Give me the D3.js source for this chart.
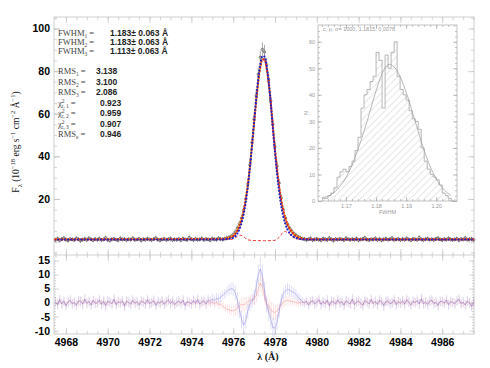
<!DOCTYPE html>
<html>
<head>
<meta charset="utf-8">
<script src="https://cdn.jsdelivr.net/npm/d3@7"></script>
<style>
body { margin: 0; background: #fff; }
svg { display: block; }
</style>
</head>
<body>
<div id="chart"></div>
<script>
// spectrum sampled every 0.1 A from 4967.5
const waveStart = 4967.5;
const waveStep = 0.1;

const obsFlux = [
  0.8,1.4,0.6,1.1,1.7,0.9,0.5,1.2,1.0,0.7,1.5,1.1,0.4,0.9,1.3,0.8,1.6,1.0,0.6,1.2,
  0.9,1.4,0.7,1.0,1.8,0.8,0.5,1.1,1.3,0.9,0.6,1.5,1.0,1.2,0.7,1.1,0.9,1.6,0.8,1.0,
  1.3,0.5,1.1,0.9,1.4,1.0,0.7,1.2,1.7,0.9,0.6,1.0,1.3,0.8,1.1,1.5,0.7,1.0,0.9,1.2,
  0.6,1.4,1.0,0.8,1.9,1.1,0.7,1.3,0.9,1.0,1.5,0.8,1.2,1.0,0.6,1.4,1.1,0.9,1.6,1.2,
  1.0,1.4,1.7,2.0,2.4,
  3.2,4.5,6.3,8.4,11.0,14.8,20.0,27.0,36.0,46.5,57.5,68.5,78.5,86.5,90.2,89.0,83.0,
  76.0,66.0,55.0,44.5,35.5,27.5,20.5,15.0,11.0,8.2,6.3,5.0,3.8,3.0,2.3,1.8,1.4,
  1.2,0.8,1.1,1.5,0.7,1.0,1.3,0.9,0.6,1.4,1.1,0.8,1.7,1.0,0.5,1.2,0.9,1.3,1.0,0.7,
  1.6,1.1,0.8,1.2,0.9,1.4,0.6,1.0,1.3,1.8,0.9,0.7,1.1,1.0,1.5,0.8,1.2,0.6,1.0,1.4,
  0.9,1.1,1.7,0.8,1.0,1.3,0.7,1.2,0.9,1.5,1.0,0.6,1.3,1.1,0.8,1.9,1.0,0.7,1.2,1.4,
  0.9,1.1,0.8,1.3,1.6,1.0,0.7,1.2,0.9,1.5,1.1,0.8,1.0,1.4,0.6,1.2,1.0,1.7,0.9,1.1,
  1.3,0.8
];

// line window (index 80 .. 123), continuum elsewhere
const windowStart = 80;
const obsErrBase = 1.0;
const obsErrLine = [
  1.0,1.0,1.1,1.1,1.2,
  1.2,1.3,1.4,1.5,1.6,1.8,2.0,2.2,2.4,2.6,2.8,3.0,3.1,3.2,3.3,3.3,3.2,3.0,2.8,2.6,
  2.4,2.2,2.0,1.8,1.6,1.5,1.4,1.3,1.3,1.2,1.2,1.1,1.1,1.0,
  1.0,1.0,1.0,1.0,1.0
];

const fitRed = [
  1.2,1.35,1.55,1.8,2.15,
  2.6,3.6,5.2,7.4,10.5,14.5,19.8,26.5,35.0,45.0,55.5,66.0,75.0,82.0,85.5,85.5,81.5,
  74.5,65.0,54.0,43.5,34.0,26.0,19.5,14.5,10.8,8.0,6.0,4.6,3.5,2.7,2.1,1.7,1.4,
  1.25,1.15,1.1,1.05,1.0
];
const fitOrange = [
  1.3,1.45,1.65,1.9,2.3,
  2.8,3.8,5.4,7.6,10.7,14.7,20.0,26.8,35.3,45.2,55.6,66.0,75.0,82.2,85.8,85.6,81.4,
  74.3,64.8,53.8,43.3,33.8,25.8,19.4,14.5,10.9,8.2,6.2,4.8,3.7,2.9,2.2,1.8,1.5,
  1.3,1.2,1.1,1.05,1.0
];
const fitBlue = [
  1.0,1.05,1.15,1.3,1.5,
  1.8,2.5,3.8,5.8,8.8,12.9,18.5,25.6,34.6,45.0,56.0,67.0,76.5,83.5,87.0,86.8,82.5,
  75.0,64.8,53.2,42.0,32.0,23.5,16.8,11.8,8.2,5.7,4.0,2.9,2.2,1.7,1.4,1.2,1.1,
  1.05,1.0,1.0,0.95,0.95
];
const fitContinuum = { red: 1.0, orange: 1.05, blue: 0.95 };

// broad component (red dashed)
const brdWave = [4967.5, 4975.9, 4976.1, 4976.3, 4976.5, 4976.7, 4977.0, 4977.5, 4978.0, 4978.2, 4978.45, 4978.7, 4978.9, 4979.2, 4987.5];
const brdFlux = [1.0, 1.0, 1.8, 3.0, 2.4, 0.8, 0.5, 0.4, 0.6, 2.0, 4.8, 3.5, 1.8, 1.1, 1.0];

// residuals
const residBlue = [
  0.3,-0.8,1.1,-0.4,0.6,-1.2,0.2,0.9,-0.5,0.1,-1.0,0.7,0.4,-0.6,1.3,-0.2,0.5,-0.9,0.8,-0.3,
  0.0,1.0,-0.7,0.4,-1.1,0.6,0.2,-0.4,1.2,-0.8,0.3,-0.1,0.7,-1.3,0.5,0.1,-0.6,0.9,-0.2,0.4,
  -0.9,0.6,0.2,-0.5,1.1,-0.3,0.0,0.8,-1.0,0.4,-0.2,0.7,-0.7,0.3,1.0,-0.4,0.5,-0.8,0.2,0.6,
  -0.3,0.9,-1.1,0.4,0.1,-0.5,0.8,-0.2,1.2,-0.6,0.3,0.7,-0.4,1.0,0.5,1.3,0.8,1.6,1.2,2.0,
  2.6,3.2,4.0,4.6,5.0,
  4.8,3.5,1.0,-2.5,-6.0,-8.0,-6.5,-3.0,-0.5,0.5,2.0,5.5,10.0,12.0,9.5,4.0,-0.5,-3.5,
  -6.0,-9.0,-9.0,-7.0,-3.0,1.0,3.2,4.2,4.8,4.5,4.0,3.6,3.0,2.0,1.2,0.5,
  -0.2,0.6,-0.9,0.3,0.8,-0.5,0.1,1.1,-0.7,0.4,-0.3,0.9,-1.2,0.5,0.2,-0.6,1.0,-0.1,0.4,-0.9,
  0.7,0.0,-0.4,1.3,-0.8,0.3,0.6,-0.2,-1.0,0.8,0.1,-0.5,1.2,-0.3,0.5,-0.7,0.9,0.2,-1.1,0.4,
  0.6,-0.4,0.0,1.0,-0.8,0.3,-0.2,0.7,-0.6,1.1,0.2,-0.9,0.5,-0.1,0.8,-0.5,1.4,-0.3,0.1,-0.7,
  0.6,0.9,-0.4,0.2,-1.0,0.5,0.3,-0.2,1.0,-0.8,0.4,0.0,-0.5,0.7,1.2,-0.3,0.2,-0.9,0.6,-0.1,
  -1.4,0.3
];
const residRed = [
  0.1,-0.6,0.9,-0.5,0.4,-1.0,0.3,0.7,-0.3,0.0,-0.8,0.5,0.6,-0.4,1.1,-0.3,0.3,-0.7,0.9,-0.1,
  -0.2,0.8,-0.5,0.6,-0.9,0.4,0.0,-0.3,1.0,-0.6,0.5,-0.2,0.5,-1.1,0.6,0.0,-0.4,0.7,-0.3,0.2,
  -0.7,0.4,0.3,-0.3,0.9,-0.4,0.1,0.6,-0.8,0.2,-0.3,0.5,-0.5,0.4,0.8,-0.2,0.3,-0.6,0.0,0.4,
  -0.1,0.7,-0.9,0.2,0.0,-0.3,0.6,-0.4,0.9,-0.5,0.1,0.4,-0.6,0.5,-0.2,0.3,-0.4,0.2,-0.8,-0.5,
  -1.2,-1.8,-2.3,-2.6,-2.8,
  -2.9,-2.6,-2.0,-1.2,-0.6,-0.8,-0.4,0.3,0.8,1.0,1.2,2.5,5.0,7.0,5.5,2.0,-0.5,-1.5,
  -2.5,-3.2,-3.5,-3.0,-2.0,-0.8,0.2,0.6,0.8,0.6,0.4,0.3,0.1,-0.2,0.0,0.2,
  0.0,0.4,-0.7,0.5,0.6,-0.3,0.3,0.9,-0.5,0.2,-0.5,0.7,-1.0,0.3,0.4,-0.4,0.8,-0.3,0.2,-0.7,
  0.5,0.2,-0.6,1.1,-0.6,0.1,0.4,-0.4,-0.8,0.6,0.3,-0.3,1.0,-0.5,0.3,-0.5,0.7,0.4,-0.9,0.2,
  0.4,-0.2,-0.2,0.8,-0.6,0.5,-0.4,0.5,-0.4,0.9,0.0,-0.7,0.3,0.1,0.6,-0.3,1.2,-0.5,0.3,-0.5,
  0.4,0.7,-0.2,0.0,-0.8,0.3,0.5,-0.4,0.8,-0.6,0.2,0.2,-0.3,0.5,1.0,-0.5,0.0,-0.7,0.4,0.1,
  -1.2,0.1
];
const residErrBase = 1.8;
const residErrLine = [
  1.6,1.7,1.8,2.0,2.2,
  2.4,2.6,2.8,3.0,3.2,3.4,3.0,2.6,2.4,2.4,2.6,3.0,3.6,4.2,4.0,3.4,3.0,3.2,3.6,3.8,
  3.4,2.8,2.4,2.2,2.2,2.2,2.1,2.0,1.9,1.8,1.8,1.7,1.7,1.6,
  1.6,1.6,1.6,1.6,1.6
];

// fit statistics
const fwhmValues = ["1.183", "1.183", "1.113"];
const fwhmError = "0.063";
const rmsValues = ["3.138", "3.100", "2.086"];
const chiValues = ["0.923", "0.959", "0.907"];
const rmsEValue = "0.946";

// inset: FWHM distribution
const histStart = 1.162;
const histBin = 0.001;
const histCounts = [1,1,2,3,5,9,11,12,11,13,15,19,24,35,40,42,45,47,56,53,35,55,50,56,60,47,42,40,38,34,31,30,27,20,15,12,10,9,8,6,3,2,1,0];
const histFitX = [1.162,1.165,1.168,1.171,1.174,1.177,1.180,1.182,1.1844,1.187,1.190,1.193,1.196,1.199,1.202,1.205];
const histFitN = [1.2,2.4,5.5,11,19.5,30,41.5,48,51.5,49,41,30,19,10.5,5,2];
const histTitle = "c, \u03bc, \u03c3=  1000,   1.1815,   0.0078";

const xTicks = [4968, 4970, 4972, 4974, 4976, 4978, 4980, 4982, 4984, 4986];
const yTicksTop = [20, 40, 60, 80, 100];
const yTicksBottom = [-10, -5, 0, 5, 10, 15];
const histXTicks = [1.17, 1.18, 1.19, 1.20];
const histYTicks = [0, 10, 20, 30, 40, 50, 60];

const width = 490, height = 368;
const plotLeft = 54, plotRight = 474, plotTop = 17, plotMid = 255, plotBottom = 334;
const frameColor = "#c4c4c4";

const svg = d3.select("#chart").append("svg")
    .attr("width", width)
    .attr("height", height)
    .attr("viewBox", [0, 0, width, height])
    .style("font-family", "'Liberation Sans', Arial, sans-serif");

const defs = svg.append("defs");
defs.append("pattern")
    .attr("id", "hatch")
    .attr("patternUnits", "userSpaceOnUse")
    .attr("width", 5)
    .attr("height", 5)
    .attr("patternTransform", "rotate(45)")
    .append("line")
    .attr("x1", 0).attr("y1", 0).attr("x2", 0).attr("y2", 5)
    .attr("stroke", "#b8b8b8")
    .attr("stroke-width", 0.7);

const x = d3.scaleLinear().domain([4967.43, 4987.52]).range([plotLeft, plotRight]);
const yTop = d3.scaleLinear().domain([-6.3, 105.4]).range([plotMid, plotTop]);
const yBot = d3.scaleLinear().domain([-11.2, 17.0]).range([plotBottom, plotMid]);

const wave = obsFlux.map((f, i) => waveStart + i * waveStep);
const obsData = obsFlux.map((f, i) => {
    const j = i - windowStart;
    const err = (j >= 0 && j < obsErrLine.length) ? obsErrLine[j] : obsErrBase;
    return { w: wave[i], f: f, e: err };
});
const residData = residBlue.map((r, i) => {
    const j = i - windowStart;
    const err = (j >= 0 && j < residErrLine.length) ? residErrLine[j] : residErrBase;
    return { w: wave[i], b: r, r: residRed[i], e: err };
});
const fitSeries = (vals, cont) => {
    const pts = vals.map((v, j) => [wave[windowStart + j], v]);
    return [[wave[0], cont]].concat(pts, [[wave[wave.length - 1], cont]]);
};

// ---- axes helpers
function cleanAxis(g, color) {
    g.select(".domain").remove();
    g.selectAll(".tick line").attr("stroke", color).attr("stroke-width", 0.7);
}
function tickAxis(axis, transform, values, size) {
    svg.append("g")
        .attr("transform", transform)
        .call(axis.tickValues(values).tickSize(size).tickFormat(""))
        .call(g => cleanAxis(g, frameColor));
}

const xMinor = d3.range(4967.5, 4987.6, 0.5);
const yTopMinor = d3.range(-5, 105.1, 5);
const yBotMinor = d3.range(-10, 16, 1);

// top panel ticks
tickAxis(d3.axisTop(x), `translate(0,${plotTop})`, xMinor, -3);
tickAxis(d3.axisTop(x), `translate(0,${plotTop})`, xTicks, -6);
tickAxis(d3.axisBottom(x), `translate(0,${plotMid})`, xMinor, -3);
tickAxis(d3.axisBottom(x), `translate(0,${plotMid})`, xTicks, -6);
tickAxis(d3.axisLeft(yTop), `translate(${plotLeft},0)`, yTopMinor, -3);
tickAxis(d3.axisLeft(yTop), `translate(${plotLeft},0)`, [0].concat(yTicksTop), -6);
tickAxis(d3.axisRight(yTop), `translate(${plotRight},0)`, yTopMinor, -3);
tickAxis(d3.axisRight(yTop), `translate(${plotRight},0)`, [0].concat(yTicksTop), -6);

// bottom panel ticks
tickAxis(d3.axisTop(x), `translate(0,${plotMid})`, xMinor, -3);
tickAxis(d3.axisTop(x), `translate(0,${plotMid})`, xTicks, -6);
tickAxis(d3.axisBottom(x), `translate(0,${plotBottom})`, xMinor, -3);
tickAxis(d3.axisLeft(yBot), `translate(${plotLeft},0)`, yBotMinor, -2);
tickAxis(d3.axisRight(yBot), `translate(${plotRight},0)`, yBotMinor, -2);
tickAxis(d3.axisRight(yBot), `translate(${plotRight},0)`, yTicksBottom, -5);

// labelled axes
svg.append("g")
    .attr("transform", `translate(0,${plotBottom})`)
    .call(d3.axisBottom(x).tickValues(xTicks).tickSize(-6).tickPadding(5).tickFormat(d => d))
    .call(g => cleanAxis(g, frameColor))
    .call(g => g.selectAll("text").attr("fill", "#000").attr("font-size", 10.5).attr("font-weight", "bold"));

svg.append("g")
    .attr("transform", `translate(${plotLeft},0)`)
    .call(d3.axisLeft(yTop).tickValues(yTicksTop).tickSize(-6).tickPadding(4).tickFormat(d => d))
    .call(g => cleanAxis(g, frameColor))
    .call(g => g.selectAll("text").attr("fill", "#000").attr("font-size", 10.5).attr("font-weight", "bold"));

svg.append("g")
    .attr("transform", `translate(${plotLeft},0)`)
    .call(d3.axisLeft(yBot).tickValues(yTicksBottom).tickSize(-5).tickPadding(4).tickFormat(d => d))
    .call(g => cleanAxis(g, frameColor))
    .call(g => g.selectAll("text").attr("fill", "#000").attr("font-size", 10.5).attr("font-weight", "bold"));

// frames
svg.append("rect")
    .attr("x", plotLeft).attr("y", plotTop)
    .attr("width", plotRight - plotLeft).attr("height", plotBottom - plotTop)
    .attr("fill", "none").attr("stroke", frameColor).attr("stroke-width", 0.8);
svg.append("line")
    .attr("x1", plotLeft).attr("x2", plotRight).attr("y1", plotMid).attr("y2", plotMid)
    .attr("stroke", frameColor).attr("stroke-width", 0.8);

// ---- inset histogram
const hx = d3.scaleLinear().domain([1.1607, 1.2069]).range([318, 457]);
const hy = d3.scaleLinear().domain([0, 66.3]).range([201, 25]);
const inset = svg.append("g");
const insetColor = "#a8a8a8";

inset.append("rect")
    .attr("x", hx.range()[0]).attr("y", hy.range()[1])
    .attr("width", hx.range()[1] - hx.range()[0])
    .attr("height", hy.range()[0] - hy.range()[1])
    .attr("fill", "#fff").attr("stroke", insetColor).attr("stroke-width", 0.7);

const histPts = histCounts.map((c, i) => [histStart + i * histBin, c]);
histPts.push([histStart + histCounts.length * histBin, 0]);

inset.append("path")
    .datum(histPts)
    .attr("fill", "url(#hatch)")
    .attr("d", d3.area().x(d => hx(d[0])).y0(hy(0)).y1(d => hy(d[1])).curve(d3.curveStepAfter));
inset.append("path")
    .datum(histPts)
    .attr("fill", "none")
    .attr("stroke", "#9a9a9a")
    .attr("stroke-width", 0.7)
    .attr("d", d3.line().x(d => hx(d[0])).y(d => hy(d[1])).curve(d3.curveStepAfter));
inset.append("path")
    .datum(histFitX.map((v, i) => [v, histFitN[i]]))
    .attr("fill", "none")
    .attr("stroke", "#9a9a9a")
    .attr("stroke-width", 0.7)
    .attr("d", d3.line().x(d => hx(d[0])).y(d => hy(d[1])).curve(d3.curveMonotoneX));

function insetAxis(axis, transform, values, size, labels) {
    inset.append("g")
        .attr("transform", transform)
        .call(axis.tickValues(values).tickSize(size).tickPadding(3).tickFormat(labels ? (d => labels(d)) : ""))
        .call(g => cleanAxis(g, insetColor))
        .call(g => g.selectAll("text").attr("fill", "#999").attr("font-size", 5.5));
}
insetAxis(d3.axisBottom(hx), `translate(0,${hy(0)})`, histXTicks, -4, d => d.toFixed(2));
insetAxis(d3.axisBottom(hx), `translate(0,${hy(0)})`, d3.range(1.162, 1.206, 0.002), -2, null);
insetAxis(d3.axisTop(hx), `translate(0,${hy.range()[1]})`, histXTicks, -4, null);
insetAxis(d3.axisTop(hx), `translate(0,${hy.range()[1]})`, d3.range(1.162, 1.206, 0.002), -2, null);
insetAxis(d3.axisLeft(hy), `translate(${hx.range()[0]},0)`, histYTicks, -4, d => d);
insetAxis(d3.axisLeft(hy), `translate(${hx.range()[0]},0)`, d3.range(0, 66, 2), -2, null);
insetAxis(d3.axisRight(hy), `translate(${hx.range()[1]},0)`, histYTicks, -4, null);
insetAxis(d3.axisRight(hy), `translate(${hx.range()[1]},0)`, d3.range(0, 66, 2), -2, null);

inset.append("text")
    .attr("x", hx.range()[0] + 5).attr("y", hy.range()[1] + 6)
    .attr("font-size", 5.5).attr("fill", "#999")
    .text(histTitle);
inset.append("text")
    .attr("x", (hx.range()[0] + hx.range()[1]) / 2).attr("y", 214)
    .attr("text-anchor", "middle")
    .attr("font-size", 5.5).attr("fill", "#999")
    .text("FWHM");
inset.append("text")
    .attr("transform", `translate(308,${(hy.range()[0] + hy.range()[1]) / 2}) rotate(-90)`)
    .attr("text-anchor", "middle")
    .attr("font-size", 5.5).attr("fill", "#999")
    .text("N");

// ---- top panel data
const topG = svg.append("g");

topG.append("g")
    .selectAll("line")
    .data(obsData)
    .join("line")
    .attr("x1", d => x(d.w)).attr("x2", d => x(d.w))
    .attr("y1", d => yTop(d.f - d.e)).attr("y2", d => yTop(d.f + d.e))
    .attr("stroke", "#777")
    .attr("stroke-width", 0.6);

topG.append("g")
    .selectAll("circle")
    .data(obsData)
    .join("circle")
    .attr("cx", d => x(d.w))
    .attr("cy", d => yTop(d.f))
    .attr("r", 1.2)
    .attr("fill", "none")
    .attr("stroke", "#333")
    .attr("stroke-width", 0.6);

const fitLine = d3.line().x(d => x(d[0])).y(d => yTop(d[1])).curve(d3.curveMonotoneX);

topG.append("path")
    .datum(brdWave.map((w, i) => [w, brdFlux[i]]))
    .attr("fill", "none")
    .attr("stroke", "#f03a3a")
    .attr("stroke-width", 1)
    .attr("stroke-dasharray", "3,2")
    .attr("d", fitLine);

const fits = [
    { vals: fitOrange, cont: fitContinuum.orange, color: "#f2b21a", off: 1.5 },
    { vals: fitRed, cont: fitContinuum.red, color: "#e3211f", off: 0 },
    { vals: fitBlue, cont: fitContinuum.blue, color: "#1f22c4", off: 0.8 }
];
topG.append("g")
    .selectAll("path")
    .data(fits)
    .join("path")
    .attr("fill", "none")
    .attr("stroke", d => d.color)
    .attr("stroke-width", 2.2)
    .attr("stroke-linecap", "round")
    .attr("stroke-dasharray", "0.1,3.2")
    .attr("stroke-dashoffset", d => d.off)
    .attr("d", d => fitLine(fitSeries(d.vals, d.cont)));

// ---- residual panel
const botG = svg.append("g");
botG.append("g")
    .selectAll("line")
    .data(residData)
    .join("line")
    .attr("x1", d => x(d.w)).attr("x2", d => x(d.w))
    .attr("y1", d => yBot(d.b - d.e)).attr("y2", d => yBot(d.b + d.e))
    .attr("stroke", "rgba(120,120,225,0.4)")
    .attr("stroke-width", 0.6);
botG.append("g")
    .selectAll("line")
    .data(residData)
    .join("line")
    .attr("x1", d => x(d.w) + 0.5).attr("x2", d => x(d.w) + 0.5)
    .attr("y1", d => yBot(d.r - d.e * 0.8)).attr("y2", d => yBot(d.r + d.e * 0.8))
    .attr("stroke", "rgba(240,140,140,0.4)")
    .attr("stroke-width", 0.6);

botG.append("path")
    .datum(residData)
    .attr("fill", "none")
    .attr("stroke", "rgba(240,110,110,0.55)")
    .attr("stroke-width", 0.7)
    .attr("d", d3.line().x(d => x(d.w)).y(d => yBot(d.r)));
botG.append("path")
    .datum(residData)
    .attr("fill", "none")
    .attr("stroke", "rgba(100,100,215,0.55)")
    .attr("stroke-width", 0.7)
    .attr("d", d3.line().x(d => x(d.w)).y(d => yBot(d.b)));

// ---- statistics text
const stats = svg.append("g")
    .attr("font-size", 8.5)
    .attr("fill", "#111");

function statLabel(y, base, sub, sup) {
    const t = stats.append("text")
        .attr("x", 58).attr("y", y)
        .attr("font-family", "'Liberation Serif', 'Times New Roman', serif")
        .attr("fill", "#444");
    t.append("tspan").text(base);
    if (sup) {
        t.append("tspan").attr("font-size", 5.5).attr("dy", -3).text(sup);
        t.append("tspan").attr("font-size", 5.5).attr("dx", -3).attr("dy", 5).text(sub);
        t.append("tspan").attr("dy", -2).text(" =");
    } else {
        t.append("tspan").attr("font-size", 5.5).attr("dy", 2).text(sub);
        t.append("tspan").attr("dy", -2).text(" =");
    }
}
function statValue(y, xPos, value) {
    stats.append("text")
        .attr("x", xPos).attr("y", y)
        .attr("font-weight", "bold")
        .attr("fill", "#222")
        .text(value);
}

const fwhmRows = [36, 45, 54];
fwhmValues.forEach((v, i) => {
    statLabel(fwhmRows[i], "FWHM", String(i + 1));
    statValue(fwhmRows[i], 110, `${v}\u00b1 ${fwhmError} \u00c5`);
});
const rmsRows = [74, 84.5, 95];
rmsValues.forEach((v, i) => {
    statLabel(rmsRows[i], "RMS", String(i + 1));
    statValue(rmsRows[i], 96, v);
});
const chiRows = [105.5, 116, 126.5];
chiValues.forEach((v, i) => {
    statLabel(chiRows[i], "\u03c7", `r, ${i + 1}`, "2");
    statValue(chiRows[i], 100, v);
});
statLabel(137, "RMS", "e");
statValue(137, 100, rmsEValue);

// ---- axis titles
const yTitle = svg.append("text")
    .attr("transform", `translate(19,${(plotTop + plotMid) / 2 + 6}) rotate(-90)`)
    .attr("text-anchor", "middle")
    .attr("font-family", "'Liberation Serif', 'Times New Roman', serif")
    .attr("font-size", 9.5)
    .attr("fill", "#111");
const titleParts = [
    ["F", 0], ["\u03bb", 1], [" (10", 0], ["\u221218", -1], [" erg s", 0], ["\u22121", -1],
    [" cm", 0], ["\u22122", -1], [" \u00c5", 0], ["\u22121", -1], [")", 0]
];
let shift = 0;
titleParts.forEach(([txt, pos]) => {
    const target = pos === 1 ? 2.5 : pos === -1 ? -4 : 0;
    yTitle.append("tspan")
        .attr("dy", target - shift)
        .attr("font-size", pos === 0 ? 9.5 : 6.5)
        .text(txt);
    shift = target;
});

svg.append("text")
    .attr("x", (plotLeft + plotRight) / 2 + 4)
    .attr("y", 360)
    .attr("text-anchor", "middle")
    .attr("font-family", "'Liberation Serif', 'Times New Roman', serif")
    .attr("font-weight", "bold")
    .attr("font-size", 10)
    .attr("fill", "#111")
    .text("\u03bb (\u00c5)");
</script>
</body>
</html>
